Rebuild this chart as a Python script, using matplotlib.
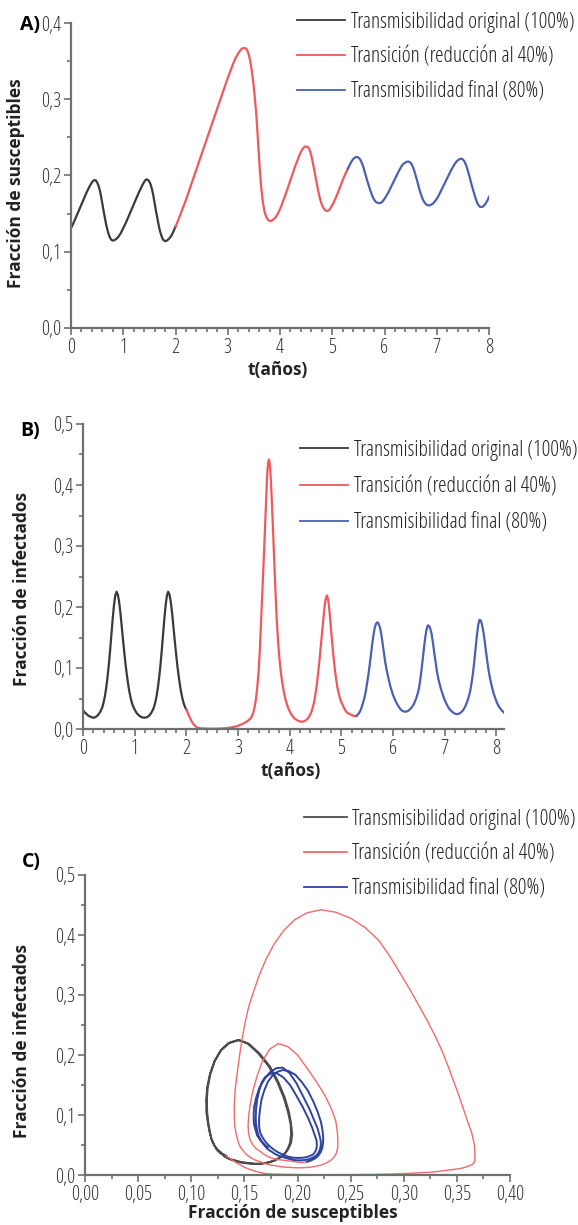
import numpy as np
import matplotlib
matplotlib.use('Agg')
import matplotlib.pyplot as plt
from matplotlib import font_manager as fm
from matplotlib.lines import Line2D
from matplotlib.ticker import MultipleLocator, FuncFormatter

# fuente estrecha si hay alguna instalada
estrechas = [f for f in fm.fontManager.ttflist if f.stretch not in ('normal', 500)]
preferidas = ['Noto Sans', 'Open Sans', 'Roboto', 'DejaVu Sans', 'Liberation Sans Narrow']
familia = 'DejaVu Sans'
estiramiento = 'normal'
for nombre in preferidas:
    cand = [f for f in estrechas if f.name == nombre]
    if cand:
        familia = nombre
        estiramiento = 'condensed'
        break
plt.rcParams['font.family'] = [familia, 'DejaVu Sans']
plt.rcParams['font.stretch'] = estiramiento

W, H = 578, 1225

# tiempo en años (paso 0.025, más fino alrededor del pico de 3.6 años)
t_years = np.round(np.r_[np.arange(0, 3.44, 0.025),
                         np.arange(3.45, 3.74, 0.0125),
                         np.arange(3.75, 8.16, 0.025)], 4)

# fracción de susceptibles (t = 0 ... 8.0)
susceptibles = [
    0.131, 0.1345, 0.138, 0.142, 0.146, 0.150, 0.154, 0.158, 0.162, 0.166,
    0.170, 0.174, 0.178, 0.1815, 0.185, 0.188, 0.191, 0.193, 0.194, 0.1935,
    0.191, 0.187, 0.181, 0.173, 0.163, 0.153, 0.144, 0.135, 0.128, 0.122,
    0.118, 0.1155, 0.1147, 0.115, 0.116, 0.1175, 0.119, 0.1215, 0.124, 0.1275,
    0.131, 0.1345, 0.138, 0.142, 0.146, 0.150, 0.154, 0.158, 0.162, 0.166,
    0.170, 0.174, 0.178, 0.1815, 0.185, 0.1885, 0.1915, 0.194, 0.195, 0.194,
    0.192, 0.188, 0.182, 0.174, 0.164, 0.154, 0.145, 0.136, 0.128, 0.122,
    0.1175, 0.115, 0.114, 0.1142, 0.1155, 0.117, 0.119, 0.1215, 0.125, 0.129,
    0.133, 0.137, 0.141, 0.1455, 0.150, 0.1545, 0.159, 0.1635, 0.168, 0.173,
    0.178, 0.183, 0.188, 0.193, 0.198, 0.203, 0.208, 0.213, 0.218, 0.223,
    0.228, 0.233, 0.238, 0.243, 0.248, 0.253, 0.258, 0.263, 0.268, 0.273,
    0.278, 0.283, 0.288, 0.293, 0.298, 0.303, 0.308, 0.313, 0.318, 0.323,
    0.328, 0.3325, 0.337, 0.3415, 0.346, 0.350, 0.354, 0.357, 0.360, 0.3625,
    0.365, 0.3665, 0.367, 0.367, 0.3665, 0.364, 0.359, 0.352,
    # 3.45 - 3.7375 (paso 0.0125)
    0.342, 0.3365, 0.330, 0.3228, 0.315, 0.3065, 0.297, 0.2875, 0.277, 0.264,
    0.250, 0.236, 0.222, 0.209, 0.197, 0.1868, 0.178, 0.1705, 0.164, 0.1587,
    0.154, 0.1507, 0.148, 0.1458,
    # 3.75 - 8.0
    0.144, 0.1415, 0.1405, 0.1405, 0.141, 0.1425, 0.144, 0.146, 0.149, 0.152,
    0.156, 0.160, 0.165, 0.169, 0.174, 0.179, 0.184, 0.189, 0.194, 0.199,
    0.204, 0.209, 0.214, 0.218, 0.223, 0.227, 0.231, 0.234, 0.2365, 0.2378,
    0.238, 0.2375, 0.236, 0.232, 0.226, 0.218, 0.209, 0.200, 0.191, 0.182,
    0.174, 0.167, 0.162, 0.158, 0.1555, 0.154, 0.1535, 0.154, 0.1555, 0.158,
    0.161, 0.1645, 0.168, 0.172, 0.176, 0.1805, 0.185, 0.1895, 0.194, 0.198,
    0.202, 0.2055, 0.209, 0.2125, 0.216, 0.219, 0.2215, 0.2232, 0.2240, 0.2242,
    0.2235, 0.222, 0.219, 0.215, 0.210, 0.204, 0.198, 0.192, 0.1865, 0.181,
    0.1765, 0.172, 0.1685, 0.166, 0.1648, 0.164, 0.1638, 0.164, 0.165, 0.167,
    0.1695, 0.172, 0.175, 0.178, 0.1815, 0.185, 0.1885, 0.192, 0.1955, 0.199,
    0.2025, 0.206, 0.209, 0.212, 0.2145, 0.216, 0.217, 0.218, 0.2182, 0.218,
    0.2165, 0.214, 0.210, 0.205, 0.199, 0.193, 0.1865, 0.180, 0.175, 0.170,
    0.1665, 0.164, 0.162, 0.161, 0.1607, 0.161, 0.162, 0.163, 0.165, 0.167,
    0.1695, 0.172, 0.1755, 0.179, 0.1825, 0.186, 0.1895, 0.193, 0.1965, 0.200,
    0.2035, 0.207, 0.210, 0.213, 0.2157, 0.218, 0.2197, 0.221, 0.2218, 0.222,
    0.221, 0.219, 0.2155, 0.211, 0.205, 0.199, 0.1925, 0.186, 0.180, 0.174,
    0.169, 0.164, 0.161, 0.159, 0.1587, 0.159, 0.1605, 0.162, 0.165, 0.168,
    0.172,
]

# fracción de infectados (t = 0 ... 8.15)
infectados = [
    0.031, 0.028, 0.026, 0.024, 0.022, 0.021, 0.020, 0.019, 0.0186, 0.0188,
    0.020, 0.0215, 0.024, 0.027, 0.031, 0.036, 0.044, 0.054, 0.068, 0.085,
    0.105, 0.129, 0.155, 0.181, 0.203, 0.219, 0.225, 0.220, 0.208, 0.190,
    0.168, 0.146, 0.125, 0.105, 0.088, 0.073, 0.060, 0.050, 0.042, 0.036,
    0.032, 0.028, 0.025, 0.023, 0.021, 0.020, 0.019, 0.0187, 0.0186, 0.019,
    0.020, 0.0215, 0.024, 0.027, 0.031, 0.036, 0.044, 0.054, 0.068, 0.085,
    0.105, 0.129, 0.155, 0.181, 0.203, 0.219, 0.225, 0.220, 0.208, 0.190,
    0.168, 0.146, 0.125, 0.105, 0.088, 0.073, 0.060, 0.050, 0.042, 0.036,
    0.032, 0.027, 0.022, 0.0175, 0.013, 0.0097, 0.007, 0.0048, 0.003, 0.002,
    0.0015, 0.0012, 0.001, 0.0009, 0.0008, 0.0007, 0.0006, 0.00055, 0.0005, 0.0005,
    0.0005, 0.0005, 0.0005, 0.00055, 0.0006, 0.00065, 0.0007, 0.0008, 0.0009, 0.00105,
    0.0012, 0.0014, 0.0016, 0.0019, 0.0022, 0.0026, 0.003, 0.0035, 0.004, 0.0045,
    0.005, 0.006, 0.007, 0.008, 0.009, 0.010, 0.011, 0.0125, 0.014, 0.016,
    0.018, 0.022, 0.028, 0.037, 0.050, 0.070, 0.095, 0.132,
    # 3.45 - 3.7375 (paso 0.0125)
    0.180, 0.205, 0.230, 0.255, 0.280, 0.307, 0.335, 0.363, 0.390, 0.412,
    0.428, 0.438, 0.442, 0.437, 0.425, 0.407, 0.385, 0.360, 0.333, 0.306,
    0.280, 0.254, 0.228, 0.203,
    # 3.75 - 8.15
    0.180, 0.145, 0.118, 0.097, 0.080, 0.067, 0.056, 0.047, 0.040, 0.034,
    0.029, 0.025, 0.022, 0.019, 0.017, 0.0155, 0.014, 0.013, 0.0125, 0.012,
    0.012, 0.0125, 0.0135, 0.015, 0.017, 0.020, 0.024, 0.029, 0.036, 0.045,
    0.057, 0.072, 0.090, 0.110, 0.132, 0.155, 0.178, 0.200, 0.214, 0.219,
    0.210, 0.190, 0.165, 0.140, 0.118, 0.098, 0.082, 0.068, 0.058, 0.050,
    0.044, 0.040, 0.035, 0.031, 0.028, 0.026, 0.025, 0.024, 0.023, 0.022,
    0.021, 0.021, 0.022, 0.024, 0.027, 0.031, 0.037, 0.044, 0.052, 0.062,
    0.075, 0.089, 0.105, 0.122, 0.140, 0.155, 0.167, 0.173, 0.175, 0.172,
    0.166, 0.155, 0.140, 0.125, 0.110, 0.098, 0.088, 0.079, 0.070, 0.063,
    0.056, 0.051, 0.046, 0.042, 0.038, 0.035, 0.032, 0.0303, 0.029, 0.0285,
    0.0285, 0.029, 0.030, 0.032, 0.034, 0.037, 0.040, 0.045, 0.050, 0.057,
    0.065, 0.078, 0.095, 0.113, 0.132, 0.150, 0.163, 0.170, 0.169, 0.164,
    0.155, 0.141, 0.125, 0.110, 0.095, 0.084, 0.075, 0.067, 0.060, 0.054,
    0.048, 0.043, 0.039, 0.035, 0.032, 0.030, 0.028, 0.0265, 0.025, 0.0245,
    0.0245, 0.025, 0.026, 0.028, 0.030, 0.033, 0.037, 0.042, 0.048, 0.055,
    0.064, 0.077, 0.092, 0.111, 0.132, 0.153, 0.170, 0.179, 0.178, 0.171,
    0.160, 0.145, 0.128, 0.112, 0.097, 0.085, 0.075, 0.066, 0.058, 0.052,
    0.046, 0.041, 0.037, 0.034, 0.031, 0.029, 0.027,
]

cambios = [2.0, 5.3]
etiquetas = ['Transmisibilidad original (100%)',
             'Transición (reducción al 40%)',
             'Transmisibilidad final (80%)']
colores = ['#3a3a3a', '#f0585d', '#4b60b2']
colores_c = ['#4d4d4d', '#f26a6a', '#2f43a0']

S = np.array(susceptibles)
I = np.array(infectados)
tS = t_years[:len(S)]


def caja(left, top, right, bottom):
    return [left / W, 1 - bottom / H, (right - left) / W, (bottom - top) / H]


def tramos(t):
    return [t <= cambios[0], (t >= cambios[0]) & (t <= cambios[1]), t >= cambios[1]]


def estilo(ax):
    for s in ['top', 'right']:
        ax.spines[s].set_visible(False)
    for s in ['left', 'bottom']:
        ax.spines[s].set_color('#707070')
        ax.spines[s].set_linewidth(1.6)
    ax.tick_params(which='both', direction='out', color='#707070', width=1.2,
                   labelsize=14.5, labelcolor='#333333', pad=2)
    ax.tick_params(which='major', length=5)
    ax.tick_params(which='minor', length=3)


def coma(nd):
    return FuncFormatter(lambda v, p: f'{v:.{nd}f}'.replace('.', ','))


def leyenda(ax, x, y, espacio, cols, lw, largo=2.25):
    handles = [Line2D([], [], color=c, lw=lw) for c in cols]
    ax.legend(handles, etiquetas, loc='upper left', bbox_to_anchor=(x / W, 1 - y / H),
              bbox_transform=fig.transFigure, frameon=False, borderpad=0, borderaxespad=0,
              handlelength=largo, handletextpad=0.25, labelspacing=espacio, fontsize=15.5,
              labelcolor='#222222')


def rotulos(letra, lx, ly, xlab, xx, xy, ylab, yx, yy):
    fig.text(lx / W, 1 - ly / H, letra, fontsize=14, fontweight='bold', ha='center', va='center')
    fig.text(xx / W, 1 - xy / H, xlab, fontsize=12.5, fontweight='bold', color='#222222',
             ha='center', va='center')
    fig.text(yx / W, 1 - yy / H, ylab, fontsize=12.5, fontweight='bold', color='#222222',
             ha='center', va='center', rotation=90)


fig = plt.figure(figsize=(W / 100, H / 100), dpi=100)

# A) susceptibles
axA = fig.add_axes(caja(71, 23, 489, 328))
for m, c in zip(tramos(tS), colores):
    axA.plot(tS[m], S[m], color=c, lw=1.6)
axA.set_xlim(0, 8)
axA.set_ylim(0, 0.4)
axA.xaxis.set_major_locator(MultipleLocator(1))
axA.xaxis.set_minor_locator(MultipleLocator(0.2))
axA.yaxis.set_major_locator(MultipleLocator(0.1))
axA.yaxis.set_minor_locator(MultipleLocator(0.05))
axA.yaxis.set_major_formatter(coma(1))
estilo(axA)
leyenda(axA, 297, 12, 0.65, colores, 1.3)
rotulos('A)', 30, 25, 't(años)', 278, 370, 'Fracción de susceptibles', 16, 183)

# B) infectados
axB = fig.add_axes(caja(83, 424, 504, 729))
for m, c in zip(tramos(t_years), colores):
    axB.plot(t_years[m], I[m], color=c, lw=1.6)
axB.set_xlim(0, 8.15)
axB.set_ylim(0, 0.5)
axB.xaxis.set_major_locator(MultipleLocator(1))
axB.xaxis.set_minor_locator(MultipleLocator(0.2))
axB.yaxis.set_major_locator(MultipleLocator(0.1))
axB.yaxis.set_minor_locator(MultipleLocator(0.05))
axB.yaxis.set_major_formatter(coma(1))
estilo(axB)
leyenda(axB, 300, 440, 0.7, colores, 1.3)
rotulos('B)', 30, 431, 't(años)', 291, 771, 'Fracción de infectados', 22, 589)

# C) plano de fase S-I
axC = fig.add_axes(caja(85, 875, 510, 1175))
n = len(S)
for m, c in zip(tramos(tS), colores_c):
    axC.plot(S[m], I[:n][m], color=c, lw=1.0 if c == colores_c[1] else 1.4)
axC.set_xlim(0, 0.4)
axC.set_ylim(0, 0.5)
axC.xaxis.set_major_locator(MultipleLocator(0.05))
axC.xaxis.set_minor_locator(MultipleLocator(0.025))
axC.yaxis.set_major_locator(MultipleLocator(0.1))
axC.yaxis.set_minor_locator(MultipleLocator(0.05))
axC.xaxis.set_major_formatter(coma(2))
axC.yaxis.set_major_formatter(coma(1))
estilo(axC)
leyenda(axC, 304, 809, 0.63, colores_c, 1.3, largo=2.0)
rotulos('C)', 31, 862, 'Fracción de susceptibles', 293, 1213, 'Fracción de infectados', 22, 1041)

fig.savefig('out.png', dpi=100)
